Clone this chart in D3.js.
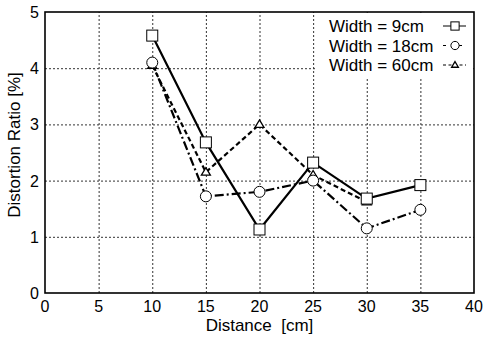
<!DOCTYPE html>
<html>
<head>
<meta charset="utf-8">
<script src="https://cdn.jsdelivr.net/npm/d3@7"></script>
<style>
  body { margin: 0; background: #fff; }
  svg { display: block; font-family: "Liberation Sans", Arial, sans-serif; }
</style>
</head>
<body>
<svg id="chart" width="483" height="339"></svg>
<script>
// Data
const distances = [10, 15, 20, 25, 30, 35];
const width9 = [4.58, 2.68, 1.13, 2.32, 1.68, 1.92];
const width18 = [4.10, 1.72, 1.80, 2.00, 1.15, 1.48];
const width60 = [4.05, 2.15, 3.00, 2.10, 1.62];
const xTicks = [0, 5, 10, 15, 20, 25, 30, 35, 40];
const yTicks = [0, 1, 2, 3, 4, 5];

const seriesList = [
  { name: 'Width = 9cm', values: width9, dash: null, width: 2.2, marker: 'square' },
  { name: 'Width = 18cm', values: width18, dash: '9,3,2,3', width: 2.2, marker: 'circle' },
  { name: 'Width = 60cm', values: width60, dash: '5,3', width: 2.2, marker: 'triangle' }
];

const margin = { left: 45, right: 9, top: 12, bottom: 46 };
const W = 483, H = 339;

const svg = d3.select('#chart');

const x = d3.scaleLinear().domain([0, 40]).range([margin.left, W - margin.right]);
const y = d3.scaleLinear().domain([0, 5]).range([H - margin.bottom, margin.top]);

// Grid lines
const grid = svg.append('g')
  .attr('stroke', '#333')
  .attr('stroke-width', 1)
  .attr('stroke-dasharray', '2,2');

grid.selectAll('line.vx')
  .data(xTicks.slice(1, -1))
  .join('line')
  .attr('x1', d => x(d) + 0.5).attr('x2', d => x(d) + 0.5)
  .attr('y1', y(0)).attr('y2', y(5));

grid.selectAll('line.hy')
  .data(yTicks.slice(1, -1))
  .join('line')
  .attr('x1', x(0)).attr('x2', x(40))
  .attr('y1', d => y(d) + 0.5).attr('y2', d => y(d) + 0.5);

// Legend background covers the grid
const legendX = 315;
svg.append('rect')
  .attr('x', legendX).attr('y', y(5) + 1)
  .attr('width', x(40) - legendX - 3).attr('height', 66)
  .attr('fill', '#fff');

// Frame
svg.append('rect')
  .attr('x', x(0)).attr('y', y(5))
  .attr('width', x(40) - x(0)).attr('height', y(0) - y(5))
  .attr('fill', 'none')
  .attr('stroke', '#000')
  .attr('stroke-width', 1.6);

// Tick labels
svg.append('g')
  .selectAll('text')
  .data(xTicks)
  .join('text')
  .attr('x', d => x(d))
  .attr('y', y(0) + 19)
  .attr('text-anchor', 'middle')
  .attr('font-size', 16)
  .text(d => d);

svg.append('g')
  .selectAll('text')
  .data(yTicks)
  .join('text')
  .attr('x', x(0) - 6)
  .attr('y', d => y(d) + 6)
  .attr('text-anchor', 'end')
  .attr('font-size', 16)
  .text(d => d);

// Axis titles
svg.append('text')
  .attr('x', (x(0) + x(40)) / 2)
  .attr('y', 331)
  .attr('text-anchor', 'middle')
  .attr('font-size', 17)
  .attr('xml:space', 'preserve')
  .text('Distance  [cm]');

svg.append('text')
  .attr('transform', `translate(20,145) rotate(-90)`)
  .attr('text-anchor', 'middle')
  .attr('font-size', 17)
  .text('Distortion Ratio [%]');

function drawMarker(g, type, cx, cy, k = 1) {
  if (type === 'square') {
    g.append('rect')
      .attr('x', cx - 5.5 * k).attr('y', cy - 5.5 * k)
      .attr('width', 11 * k).attr('height', 11 * k)
      .attr('fill', '#fff').attr('stroke', '#000').attr('stroke-width', 1);
  } else if (type === 'circle') {
    g.append('circle')
      .attr('cx', cx).attr('cy', cy).attr('r', 5.5 * k)
      .attr('fill', '#fff').attr('stroke', '#000').attr('stroke-width', 1);
  } else {
    g.append('path')
      .attr('d', `M${cx},${cy - 4.5 * k}L${cx + 4.5 * k},${cy + 3 * k}L${cx - 4.5 * k},${cy + 3 * k}Z`)
      .attr('fill', '#fff').attr('stroke', '#000').attr('stroke-width', 1.3);
  }
}

const line = d3.line()
  .x(d => x(d[0]))
  .y(d => y(d[1]));

// Series
seriesList.forEach(s => {
  const pts = s.values.map((v, i) => [distances[i], v]);
  svg.append('path')
    .datum(pts)
    .attr('d', line)
    .attr('fill', 'none')
    .attr('stroke', '#000')
    .attr('stroke-width', s.width)
    .attr('stroke-dasharray', s.dash);
});

seriesList.slice().reverse().forEach(s => {
  const g = svg.append('g');
  s.values.forEach((v, i) => drawMarker(g, s.marker, x(distances[i]), y(v)));
});

// Legend
const legend = svg.append('g');
seriesList.forEach((s, i) => {
  const ly = 26 + i * 19.5;
  legend.append('text')
    .attr('x', 329)
    .attr('y', ly + 6)
    .attr('font-size', 17)
    .text(s.name);
  legend.append('line')
    .attr('x1', 443).attr('x2', 466)
    .attr('y1', ly).attr('y2', ly)
    .attr('stroke', '#000')
    .attr('stroke-width', 1)
    .attr('stroke-dasharray', i === 0 ? null : (i === 1 ? '3,5' : '3,2.5'));
  drawMarker(legend, s.marker, 455, ly, 0.75);
});
</script>
</body>
</html>
